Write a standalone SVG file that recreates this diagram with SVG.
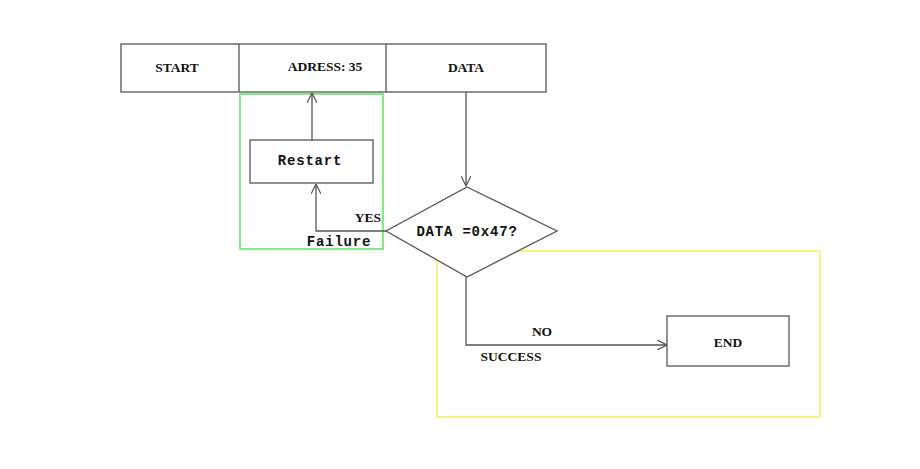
<svg xmlns="http://www.w3.org/2000/svg" width="920" height="469" viewBox="0 0 920 469">
<style>
.box{fill:#fff;stroke:#555;stroke-width:1.3}
.ln{fill:none;stroke:#555;stroke-width:1.3}
.t{font-family:"Liberation Serif",serif;font-weight:bold;font-size:13.5px;fill:#111;text-anchor:middle}
.m{font-family:"Liberation Mono",monospace;font-weight:bold;font-size:14px;letter-spacing:0.8px;fill:#111;text-anchor:middle}
</style>
<defs>
<marker id="a" viewBox="0 0 10 10" refX="10" refY="5" markerWidth="10" markerHeight="10" markerUnits="userSpaceOnUse" orient="auto">
<path d="M0,0 L10,5 L0,10" fill="none" stroke="#555" stroke-width="1.2"/>
</marker>
</defs>
<rect width="920" height="469" fill="#fff"/>
<g id="frames">
<rect x="240" y="94" width="143" height="155" fill="none" stroke="#5de35d" stroke-width="1.5"/>
<rect x="437" y="251" width="383" height="166" fill="none" stroke="#f3ee5c" stroke-width="1.5"/>
</g>
<g id="bar">
<rect class="box" x="121" y="44" width="425" height="48"/>
<line class="ln" x1="239" y1="44" x2="239" y2="92"/>
<line class="ln" x1="386" y1="44" x2="386" y2="92"/>
<text class="t" x="177" y="72">START</text>
<text class="t" x="325" y="71">ADRESS: 35</text>
<text class="t" x="466" y="72">DATA</text>
</g>
<g id="restart">
<rect class="box" x="250" y="140" width="123" height="43"/>
<text class="m" x="310" y="165">Restart</text>
</g>
<g id="decision">
<polygon class="box" points="467,187 557,231 467,277 386,231"/>
<text class="m" x="467" y="236">DATA =0x47?</text>
</g>
<g id="end">
<rect class="box" x="667" y="316" width="122" height="50"/>
<text class="t" x="728" y="347">END</text>
</g>
<g id="connectors">
<line class="ln" x1="312" y1="140" x2="312" y2="93" marker-end="url(#a)"/>
<line class="ln" x1="466" y1="92" x2="466" y2="186" marker-end="url(#a)"/>
<polyline class="ln" points="386,231 316,231 316,184" marker-end="url(#a)"/>
<polyline class="ln" points="466,277 466,345 667,345" marker-end="url(#a)"/>
<text class="t" x="368" y="222">YES</text>
<text class="m" x="339" y="246">Failure</text>
<text class="t" x="542" y="336">NO</text>
<text class="t" x="511" y="361">SUCCESS</text>
</g>
</svg>
